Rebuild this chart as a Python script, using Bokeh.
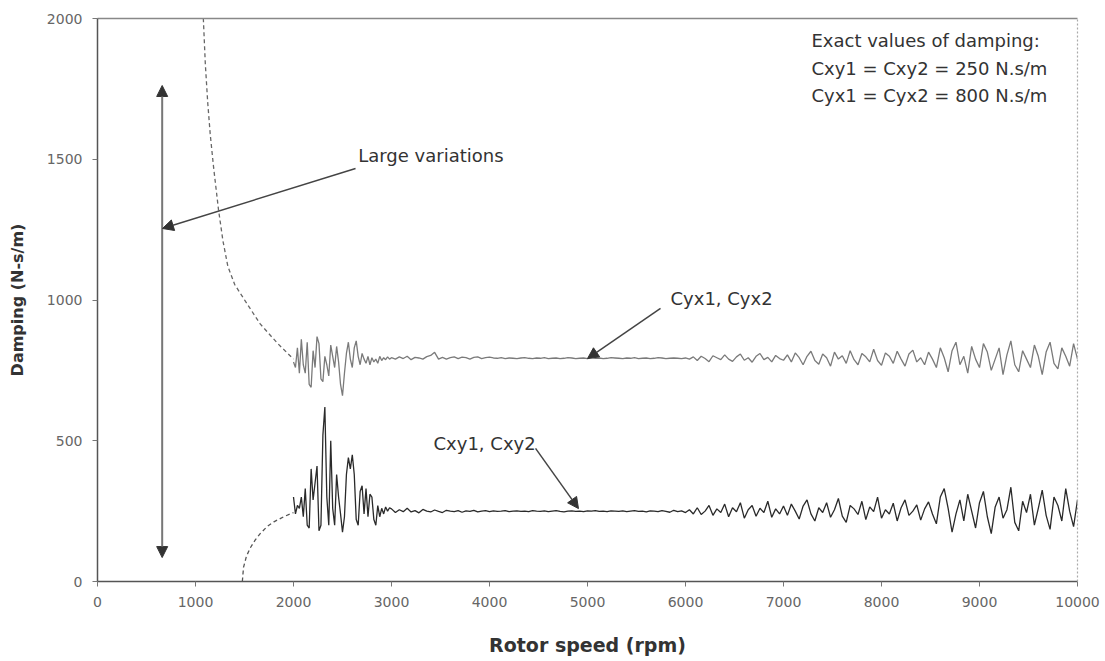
from bokeh.plotting import figure
from bokeh.models import Range1d, Label, Arrow, NormalHead, LinearAxis, FixedTicker
from bokeh.embed import file_html
from bokeh.resources import INLINE

# ---------------- data ----------------
x_ticks = [0, 1000, 2000, 3000, 4000, 5000, 6000, 7000, 8000, 9000, 10000]
y_ticks = [0, 500, 1000, 1500, 2000]

# dashed (identified-model) tails below 2000 rpm
cyx_tail_rpm = [1060, 1080, 1100, 1125, 1150, 1185, 1235, 1280, 1330, 1400, 1510, 1660, 1840, 2000]
cyx_tail_val = [2100, 2000, 1840, 1700, 1590, 1470, 1320, 1210, 1120, 1055, 995, 915, 845, 790]
cxy_tail_rpm = [1478, 1490, 1520, 1560, 1610, 1660, 1730, 1800, 1900, 2000]
cxy_tail_val = [0, 50, 90, 120, 148, 170, 195, 212, 230, 245]

# measured identification results
early_rpm = list(range(2000, 3000, 20))
late_rpm = list(range(3000, 10001, 40))

cxy_early = [300, 240, 270, 260, 300, 230, 330, 200, 190, 400,
             290, 350, 410, 180, 200, 520, 620, 300, 200, 500,
             260, 200, 380, 300, 240, 175, 230, 380, 440, 400,
             450, 380, 220, 200, 320, 340, 240, 330, 230, 310,
             300, 220, 200, 270, 230, 260, 240, 265, 250, 262]
cxy_late = [258, 245, 255, 248, 260, 247, 252, 244, 256, 250, 247, 254, 249, 245, 253, 250, 248, 252, 246, 251,
            249, 253, 247, 250, 252, 248,
            251, 249, 250, 252, 248, 250, 251, 249, 250, 248, 252, 250, 249, 251, 248, 250, 252, 249, 247, 250,
            251, 249, 250, 248, 251, 250, 252, 249, 250, 248, 251, 250, 249, 251, 248, 250, 252, 249, 250, 247,
            251, 250, 248, 252, 249, 246, 253, 248, 251, 245,
            255, 240, 262, 238, 250, 270, 235, 258, 245, 275, 230, 262, 248, 280, 225, 255, 270, 232, 260, 245,
            285, 228, 258, 240, 268,
            235, 275, 250, 222, 268, 290, 240, 215, 262, 245, 280, 228, 255, 295, 232, 210, 270, 258, 238, 285,
            220, 265, 248, 300, 225, 255, 240, 278, 215, 262, 290, 235, 250, 272, 218, 258, 283, 240,
            205, 300, 330, 260, 175, 240, 290, 215, 310, 250, 190, 280, 320, 230, 170, 265, 300, 225, 255, 335,
            210, 180, 285, 245, 310, 200, 260, 325, 235, 185, 300, 270, 215, 330, 250, 195, 290]

cyx_early = [780, 760, 830, 740, 860, 770, 740, 850, 700, 690,
             820, 760, 870, 845, 720, 710, 800, 770, 730, 840,
             800, 760, 835, 780, 700, 660, 740, 810, 850, 790,
             760, 830, 855, 800, 770, 810, 790, 775, 800, 770,
             795, 780, 790, 775, 800, 785, 795, 788, 798, 790]
cyx_late = [795, 790, 798, 792, 800, 788, 796, 794, 790, 799, 803, 814, 790, 796, 790, 795, 798, 792, 797, 795,
            790, 796, 798, 792, 795, 797,
            794, 793, 795, 792, 794, 793, 792, 794, 795, 793, 792, 794, 793, 795, 792, 793, 794, 792, 793, 795,
            794, 792, 793, 794, 792, 795, 793, 794, 792, 793, 795, 794, 793, 792, 794, 793, 795, 792, 793, 794,
            792, 793, 795, 794, 792, 793, 794, 793, 792, 794,
            790, 798, 785, 800, 792, 781, 802, 795, 788, 805, 790, 782, 798, 808, 786, 795, 779, 800, 810, 788,
            796, 780, 803, 792, 786,
            805, 780, 812, 795, 770, 800, 818, 785, 772, 808, 795, 765, 815, 790, 802, 775, 820, 788, 770, 810,
            798, 780, 825, 785, 768, 812, 800, 775, 818, 790, 765, 808, 822, 780, 795, 770, 815, 790,
            760, 830, 795, 745, 820, 850, 770, 800, 740, 835, 790, 760, 845, 815, 750, 790, 830, 735, 805, 855,
            770, 745, 820, 790, 760, 840, 800, 735, 815, 850, 775, 755, 830, 800, 765, 845, 790]

note_lines = ["Exact values of damping:",
              "Cxy1 = Cxy2 = 250 N.s/m",
              "Cyx1 = Cyx2 = 800 N.s/m"]

FONT = "DejaVu Sans"

# ---------------- figure ----------------
p = figure(width=1105, height=661,
           x_range=Range1d(0, 10000), y_range=Range1d(0, 2000),
           output_backend="svg", toolbar_location=None,
           min_border_left=97, min_border_right=28, min_border_top=18, min_border_bottom=80)
p.background_fill_color = "white"
p.border_fill_color = "white"
p.outline_line_color = None
p.grid.visible = False

# axes
for ax in (p.xaxis[0], p.yaxis[0]):
    ax.axis_line_color = "#555555"
    ax.axis_line_width = 1.5
    ax.major_tick_line_color = "#777777"
    ax.major_tick_in = 0
    ax.major_tick_out = 5
    ax.minor_tick_line_color = None
    ax.major_label_text_font = FONT
    ax.major_label_text_font_size = "14px"
    ax.major_label_text_color = "#666666"
    ax.axis_label_text_font = FONT
    ax.axis_label_text_font_style = "bold"
    ax.axis_label_text_color = "#333333"

p.xaxis.axis_label_text_font_size = "19px"
p.yaxis.axis_label_text_font_size = "16px"
p.xaxis.ticker = FixedTicker(ticks=x_ticks)
p.yaxis.ticker = FixedTicker(ticks=y_ticks)
p.xaxis.axis_label = "Rotor speed (rpm)"
p.yaxis.axis_label = "Damping (N-s/m)"
p.xaxis.major_label_standoff = 10
p.xaxis.axis_label_standoff = 24
p.yaxis.major_label_standoff = 10
p.yaxis.axis_label_standoff = 17

top_ax = LinearAxis(ticker=FixedTicker(ticks=[]), axis_line_color="#888888",
                    axis_line_width=1.5, major_tick_line_color=None, minor_tick_line_color=None)
right_ax = LinearAxis(ticker=FixedTicker(ticks=[]), axis_line_color="#aaaaaa",
                      axis_line_dash="2 2", axis_line_width=1.2,
                      major_tick_line_color=None, minor_tick_line_color=None)
p.add_layout(top_ax, "above")
p.add_layout(right_ax, "right")

# curves
p.line(cyx_tail_rpm, cyx_tail_val, line_color="#666666", line_width=1.3, line_dash="4 3")
p.line(cxy_tail_rpm, cxy_tail_val, line_color="#555555", line_width=1.3, line_dash="4 3")
p.line(early_rpm + late_rpm, cyx_early + cyx_late, line_color="#7a7a7a", line_width=1.3)
p.line(early_rpm + late_rpm, cxy_early + cxy_late, line_color="#2a2a2a", line_width=1.3)

# annotations
def head():
    return NormalHead(size=11, fill_color="#333333", line_color="#333333")

p.add_layout(Arrow(start=head(), end=head(), x_start=660, y_start=85, x_end=660, y_end=1762,
                   line_color="#777777", line_width=2))
p.add_layout(Arrow(end=head(), x_start=2633, y_start=1467, x_end=663, y_end=1254,
                   line_color="#444444", line_width=1.5))
p.add_layout(Arrow(end=head(), x_start=5745, y_start=970, x_end=5000, y_end=792,
                   line_color="#444444", line_width=1.5))
p.add_layout(Arrow(end=head(), x_start=4470, y_start=473, x_end=4908, y_end=259,
                   line_color="#444444", line_width=1.5))

label_kw = dict(text_font=FONT, text_font_size="18px", text_color="#333333",
                text_baseline="middle", text_align="left")
p.add_layout(Label(x=2660, y=1513, text="Large variations", **label_kw))
p.add_layout(Label(x=5847, y=1005, text="Cyx1, Cyx2", **label_kw))
p.add_layout(Label(x=3429, y=490, text="Cxy1, Cxy2", **label_kw))
for i, t in enumerate(note_lines):
    p.add_layout(Label(x=7285, y=1922 - i * 98, text=t, **label_kw))

open("out.html", "w").write(file_html(p, INLINE))
